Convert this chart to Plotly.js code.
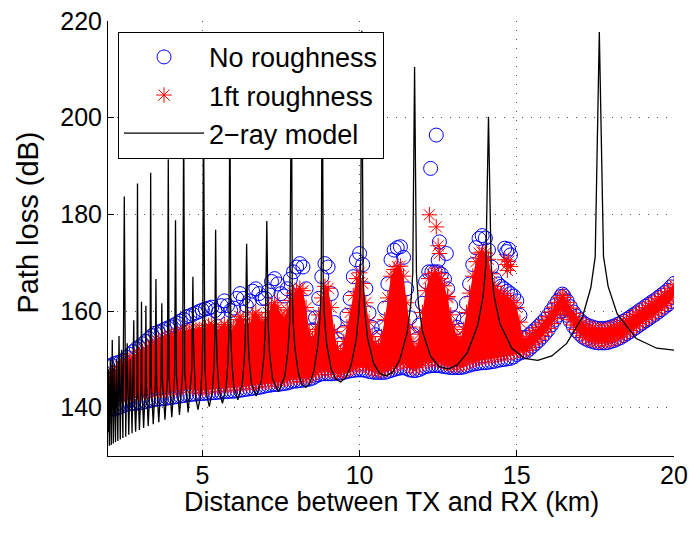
<!DOCTYPE html>
<html><head><meta charset="utf-8">
<script src="https://cdn.plot.ly/plotly-3.0.1.min.js"></script>
<style>html,body{margin:0;padding:0;background:#fff}</style>
</head><body><div id="chart" style="width:691px;height:533px"></div>
<script>
// distance grid (km) for the envelope rows of the measured clouds
const edgeX = [
2.0,2.1,2.2,2.3,2.4,2.5,2.6,2.7,2.8,2.9,
3.0,3.1,3.2,3.3,3.4,3.5,3.6,3.7,3.8,3.9,
4.0,4.1,4.2,4.3,4.4,4.5,4.6,4.7,4.8,4.9,
5.0,5.1,5.2,5.3,5.4,5.5,5.6,5.7,5.8,5.9,
6.0,6.1,6.2,6.3,6.4,6.5,6.6,6.7,6.8,6.9,
7.0,7.1,7.2,7.3,7.4,7.5,7.6,7.7,7.8,7.9,
8.0,8.1,8.2,8.3,8.4,8.5,8.6,8.7,8.8,8.9,
9.0,9.1,9.2,9.3,9.4,9.5,9.6,9.7,9.8,9.9,
10.0,10.1,10.2,10.3,10.4,10.5,10.6,10.7,10.8,10.9,
11.0,11.1,11.2,11.3,11.4,11.5,11.6,11.7,11.8,11.9,
12.0,12.1,12.2,12.3,12.4,12.5,12.6,12.7,12.8,12.9,
13.0,13.1,13.2,13.3,13.4,13.5,13.6,13.7,13.8,13.9,
14.0,14.1,14.2,14.3,14.4,14.5,14.6,14.7,14.8,14.9,
15.0,15.1,15.2,15.3,15.4,15.5,15.6,15.7,15.8,15.9,
16.0,16.1,16.2,16.3,16.4,16.45,16.5,16.6,16.7,16.8,16.9,
17.0,17.1,17.2,17.3,17.4,17.5,17.6,17.7,17.8,17.9,
18.0,18.1,18.2,18.3,18.4,18.5,18.6,18.7,18.8,18.9,
19.0,19.1,19.2,19.3,19.4,19.5,19.6,19.7,19.8,19.9,
20.0];

// 1ft roughness: upper and lower rows of the red cloud (dB)
const redTopY = [
146.2,146.7,147.2,147.9,148.5,149.2,149.5,149.9,150.3,150.7,
151.0,151.5,151.9,152.4,152.9,153.4,153.7,154.0,154.3,154.6,
154.8,155.0,155.2,155.4,155.6,155.8,155.9,156.0,156.1,156.2,
156.2,156.5,157.0,157.2,156.7,155.7,156.7,157.2,156.7,155.7,
156.7,158.2,158.9,158.2,156.7,157.2,159.2,159.6,158.7,157.7,
158.2,159.7,161.2,161.7,160.7,159.2,158.7,160.2,162.2,163.7,
164.2,164.7,164.2,160.7,155.7,154.2,156.2,159.2,162.7,165.1,
164.7,160.7,155.7,152.2,151.3,153.7,156.7,159.7,163.2,166.7,
167.9,165.7,161.7,157.7,154.7,153.2,152.7,154.7,158.2,162.7,
167.2,168.6,169.2,169.3,167.2,161.7,156.7,153.2,152.2,155.2,
159.7,164.2,166.7,167.7,167.9,167.7,166.7,165.2,162.7,159.2,
156.7,154.7,154.1,156.2,159.7,163.7,167.2,170.2,172.0,172.2,
172.0,170.7,167.7,165.1,164.2,163.7,163.2,162.7,162.2,161.7,
160.7,157.7,154.2,154.3,154.8,155.4,156.0,156.6,157.3,158.0,
158.8,159.8,160.8,161.8,162.7,163.2,162.8,161.8,160.6,159.5,158.6,
157.9,157.3,156.9,156.6,156.4,156.2,156.1,156.1,156.1,156.2,
156.4,156.6,156.9,157.2,157.6,158.0,158.4,158.9,159.3,159.8,
160.2,160.7,161.1,161.6,162.0,162.5,163.0,163.5,164.0,164.7,
165.4];
const redBotY = [
142.2,142.2,142.3,142.3,142.4,142.5,142.5,142.6,142.7,142.8,
142.9,143.0,143.1,143.3,143.4,143.6,143.6,143.6,143.6,143.6,
143.7,143.8,143.9,144.0,144.2,144.3,144.2,144.1,144.0,143.9,
143.9,144.0,144.1,144.2,144.3,144.3,144.4,144.4,144.5,144.5,
144.6,144.6,144.7,144.8,144.8,144.9,145.0,145.1,145.1,145.2,
145.3,145.4,145.4,145.5,145.6,145.6,145.8,146.0,146.2,146.3,
146.3,146.3,146.3,146.3,146.5,146.8,147.3,147.6,147.8,147.8,
147.8,147.7,147.5,147.3,147.3,147.5,147.8,148.1,148.4,148.7,
148.8,148.8,148.6,148.3,148.0,147.8,147.7,147.7,147.8,148.1,
148.5,148.8,149.1,149.3,149.5,149.1,148.6,148.3,148.3,148.7,
149.2,149.6,149.7,149.8,149.8,149.8,149.6,149.3,149.1,148.9,
148.8,148.8,148.8,149.0,149.3,149.6,149.8,150.0,150.2,150.3,
150.3,150.4,150.5,150.6,150.8,150.9,151.0,151.1,151.2,151.5,
151.8,151.9,151.8,151.9,152.4,153.0,153.6,154.2,154.9,155.6,
156.4,157.4,158.4,159.4,160.3,160.8,160.4,159.4,158.2,157.1,156.2,
155.5,154.9,154.5,154.2,154.0,153.8,153.7,153.7,153.7,153.8,
154.0,154.2,154.5,154.8,155.2,155.6,156.0,156.5,156.9,157.4,
157.8,158.3,158.7,159.2,159.6,160.1,160.6,161.1,161.6,162.3,
163.0];
const redOutX = [12.22,12.44,12.5,12.54,12.81,14.62,14.68,14.74,14.8,14.7];
const redOutY = [179.9,177.4,173.5,171.9,163.0,170.6,169.6,170.3,169.2,168.4];

// No roughness: upper and lower rows of the blue cloud (dB)
const blueTopY = [
148.5,148.8,149.1,149.3,149.5,149.8,150.4,151.0,151.6,152.2,
152.6,153.2,153.7,154.3,154.9,155.4,155.6,155.9,156.2,156.5,
156.7,157.1,157.5,157.9,158.3,158.8,159.0,159.3,159.6,159.9,
160.2,160.4,160.6,160.8,160.1,159.6,161.1,162.1,161.1,160.1,
160.6,162.6,163.6,162.6,161.1,162.1,164.1,164.6,163.6,162.6,
162.6,164.1,166.1,166.7,165.6,163.6,163.1,164.6,166.6,168.1,
169.1,169.8,169.1,164.6,158.6,156.1,158.6,162.6,167.1,169.8,
169.1,163.6,157.6,154.1,153.1,155.6,159.1,162.6,167.1,170.6,
171.9,169.6,164.6,159.6,156.6,155.1,154.6,156.6,160.6,165.6,
170.6,172.6,173.1,173.3,171.1,164.6,158.6,155.1,154.1,157.1,
161.6,166.1,168.1,168.1,168.1,168.1,167.6,166.6,164.6,161.1,
158.6,156.6,156.0,158.1,161.6,165.6,169.6,173.1,175.0,175.6,
175.1,172.6,169.1,166.6,165.6,165.1,164.6,164.1,163.6,163.1,
162.1,159.1,154.5,154.6,155.1,155.7,156.3,156.9,157.6,158.3,
159.1,160.1,161.1,162.1,163.0,163.5,163.1,162.1,160.9,159.8,158.9,
158.2,157.6,157.2,156.9,156.7,156.5,156.4,156.4,156.4,156.5,
156.7,156.9,157.2,157.5,157.9,158.3,158.7,159.2,159.6,160.1,
160.5,161.0,161.4,161.9,162.3,162.8,163.3,163.8,164.3,165.0,
165.7];
const blueBotY = [
139.6,139.6,139.7,139.9,140.2,140.5,140.7,140.8,140.9,140.9,
141.0,141.1,141.3,141.4,141.6,141.7,141.8,141.8,141.9,142.0,
142.1,142.2,142.3,142.4,142.5,142.7,142.7,142.8,142.8,142.9,
142.9,143.0,143.0,143.1,143.1,143.2,143.2,143.3,143.3,143.4,
143.4,143.5,143.6,143.7,143.8,143.9,144.0,144.1,144.2,144.3,
144.5,144.6,144.7,144.8,144.8,144.9,145.0,145.1,145.3,145.5,
145.5,145.6,145.7,145.8,145.9,146.1,146.5,146.8,147.0,147.0,
147.0,147.0,147.1,147.1,147.2,147.3,147.5,147.6,147.7,147.8,
147.8,147.8,147.7,147.5,147.4,147.3,147.3,147.3,147.3,147.5,
147.7,147.9,148.1,148.2,148.3,148.1,147.8,147.7,147.7,147.9,
148.2,148.5,148.6,148.7,148.7,148.7,148.6,148.5,148.4,148.3,
148.3,148.3,148.3,148.4,148.6,148.8,149.0,149.1,149.2,149.3,
149.3,149.4,149.5,149.6,149.8,149.9,150.0,150.1,150.2,150.5,
151.0,151.3,151.5,151.6,152.1,152.7,153.3,153.9,154.6,155.3,
156.1,157.1,158.1,159.1,160.0,160.5,160.1,159.1,157.9,156.8,155.9,
155.2,154.6,154.2,153.9,153.7,153.5,153.4,153.4,153.4,153.5,
153.7,153.9,154.2,154.5,154.9,155.3,155.7,156.2,156.6,157.1,
157.5,158.0,158.4,158.9,159.3,159.8,160.3,160.8,161.3,162.0,
162.7];
const blueOutX = [12.26,12.44,12.54,12.76,12.5,14.62,14.68,14.74,14.8];
const blueOutY = [189.5,196.4,174.3,171.9,170.5,173.0,172.3,172.8,171.6];

// 2-ray model curve (km, dB)
const rayX = [
2.000,2.014,2.044,2.074,2.104,2.136,2.169,2.203,2.238,2.274,2.312,2.350,2.390,2.431,2.474,2.518,2.564,2.611,2.660,2.712,2.765,2.820,
2.834,2.878,2.922,2.938,2.953,3.000,3.049,3.065,3.082,3.133,3.186,3.205,3.223,3.279,3.337,3.357,3.377,3.439,3.503,3.525,
3.547,3.615,3.686,3.711,3.735,3.811,3.890,3.917,3.944,4.029,4.117,4.147,4.178,4.273,4.372,4.406,4.441,4.548,4.661,4.700,
4.720,4.740,4.780,4.862,4.947,4.991,5.013,5.036,5.058,5.081,5.127,5.222,5.321,5.371,5.397,5.423,
5.449,5.476,5.529,5.640,5.755,5.814,5.845,5.875,5.906,5.937,6.000,6.130,6.267,6.337,6.373,6.409,
6.446,6.483,6.558,6.714,6.878,6.963,7.006,7.050,7.094,7.139,7.231,7.421,7.622,7.726,7.779,7.833,
7.860,7.888,7.944,8.057,8.174,8.294,8.418,8.545,8.677,8.744,8.780,8.813,
8.846,8.882,8.952,9.097,9.246,9.400,9.559,9.724,9.895,9.982,10.028,10.071,
10.115,10.162,10.255,10.444,10.642,10.846,11.059,11.280,11.510,11.629,11.692,11.750,
11.809,11.874,12.000,12.261,12.533,12.818,13.116,13.429,13.756,13.926,14.016,14.100,
14.185,14.279,14.462,14.842,15.243,15.667,16.114,16.588,17.091,17.354,17.494,17.625,
17.758,17.905,18.194,18.800,19.448,20.000];
const rayY = [
134.9,148.0,132.1,150.0,132.3,154.0,132.6,149.0,132.9,150.0,133.1,154.8,133.4,152.0,133.7,183.7,134.0,153.3,134.4,150.0,134.7,158.1,
143.2,135.0,143.5,186.4,143.6,135.4,143.9,161.9,144.0,135.8,144.3,161.1,144.4,136.2,144.7,188.6,144.8,136.6,145.1,166.6,
145.2,137.0,145.5,161.6,145.6,137.5,146.0,191.4,146.1,138.0,146.5,178.8,146.6,138.5,147.0,200.0,147.1,139.0,147.6,167.1,
153.5,147.7,142.4,139.6,142.7,148.2,154.1,205.0,154.1,148.3,143.1,140.2,143.4,148.8,154.7,176.8,
154.8,149.0,143.7,140.9,144.1,149.5,155.4,208.0,155.5,149.7,144.4,141.6,144.8,150.2,156.1,173.9,
156.2,150.4,145.2,142.4,145.6,151.0,157.0,178.6,157.1,151.3,146.0,143.3,146.5,152.0,157.9,212.0,
164.3,158.0,152.2,147.0,144.8,144.2,145.0,147.5,153.0,158.9,165.2,215.0,
165.3,159.0,153.2,148.0,145.9,145.3,146.2,148.6,154.1,160.0,166.4,218.0,
166.5,160.2,154.4,149.2,147.1,146.6,147.4,149.9,155.4,161.4,167.7,210.5,
167.8,161.5,155.8,150.6,148.5,148.0,148.9,151.4,157.0,162.9,169.3,200.2,
169.4,163.1,157.4,152.3,150.2,149.8,150.7,153.3,158.8,164.8,171.2,217.7,
171.3,165.1,159.4,154.3,152.3,151.9];

const xTicks = [5,10,15,20];
const yTicks = [140,160,180,200,220];
const xTitle = 'Distance between TX and RX (km)';
const yTitle = 'Path loss (dB)';

const blueX = edgeX.concat(edgeX, blueOutX);
const blueY = blueTopY.concat(blueBotY, blueOutY);
const redX = edgeX.concat(edgeX, redOutX);
const redY = redTopY.concat(redBotY, redOutY);
const fillX = edgeX.concat(edgeX.slice().reverse());
const fillY = redTopY.concat(redBotY.slice().reverse());

const FONT = 'Liberation Sans, Arial, Helvetica, sans-serif';

const traces = [
  {type:'scatter', mode:'markers', name:'No roughness', x:blueX, y:blueY,
   marker:{symbol:'circle-open', size:14, color:'#0000ff', line:{color:'#0000ff', width:1}},
   hoverinfo:'skip'},
  {type:'scatter', mode:'none', x:fillX, y:fillY, fill:'toself', fillcolor:'#ff0000',
   showlegend:false, hoverinfo:'skip'},
  {type:'scatter', mode:'markers', name:'1ft roughness', x:redX, y:redY,
   marker:{symbol:'asterisk-open', size:13, color:'#ff0000', line:{color:'#ff0000', width:1}},
   hoverinfo:'skip'},
  {type:'scatter', mode:'lines', name:'2\u2212ray model', x:rayX, y:rayY,
   line:{color:'#000000', width:1.3}, hoverinfo:'skip'}
];

const axisCommon = {
  showline:true, linecolor:'#000', linewidth:1, mirror:false,
  ticks:'inside', ticklen:6, tickcolor:'#000', tickwidth:1,
  showgrid:true, gridcolor:'#555', gridwidth:1, griddash:'1px,8px',
  zeroline:false, tickfont:{family:FONT, size:25, color:'#000'}
};

const layout = {
  width:691, height:533,
  margin:{l:108, r:17, t:21, b:77},
  paper_bgcolor:'#fff', plot_bgcolor:'#fff',
  font:{family:FONT, color:'#000'},
  showlegend:true,
  xaxis:Object.assign({}, axisCommon, {range:[2,20], tickvals:xTicks, ticktext:xTicks.map(String),
    ticklabelstandoff:-3}),
  yaxis:Object.assign({}, axisCommon, {range:[130,220], tickvals:yTicks, ticktext:yTicks.map(String)}),
  annotations:[
    {text:xTitle, xref:'paper', yref:'paper', x:0.5, y:-0.106, xanchor:'center', yanchor:'middle',
     showarrow:false, font:{family:FONT, size:27, color:'#000'}},
    {text:yTitle, xref:'paper', yref:'paper', x:-0.141, y:0.537, xanchor:'center', yanchor:'middle',
     textangle:-90, showarrow:false, font:{family:FONT, size:29, color:'#000'}}
  ],
  legend:{x:0.0177, y:0.975, xanchor:'left', yanchor:'top', bgcolor:'#fff',
    bordercolor:'#000', borderwidth:1, font:{family:FONT, size:27, color:'#000'},
    itemwidth:80, tracegroupgap:0}
};

Plotly.newPlot('chart', traces, layout, {displayModeBar:false, staticPlot:true});
</script>
</body></html>
